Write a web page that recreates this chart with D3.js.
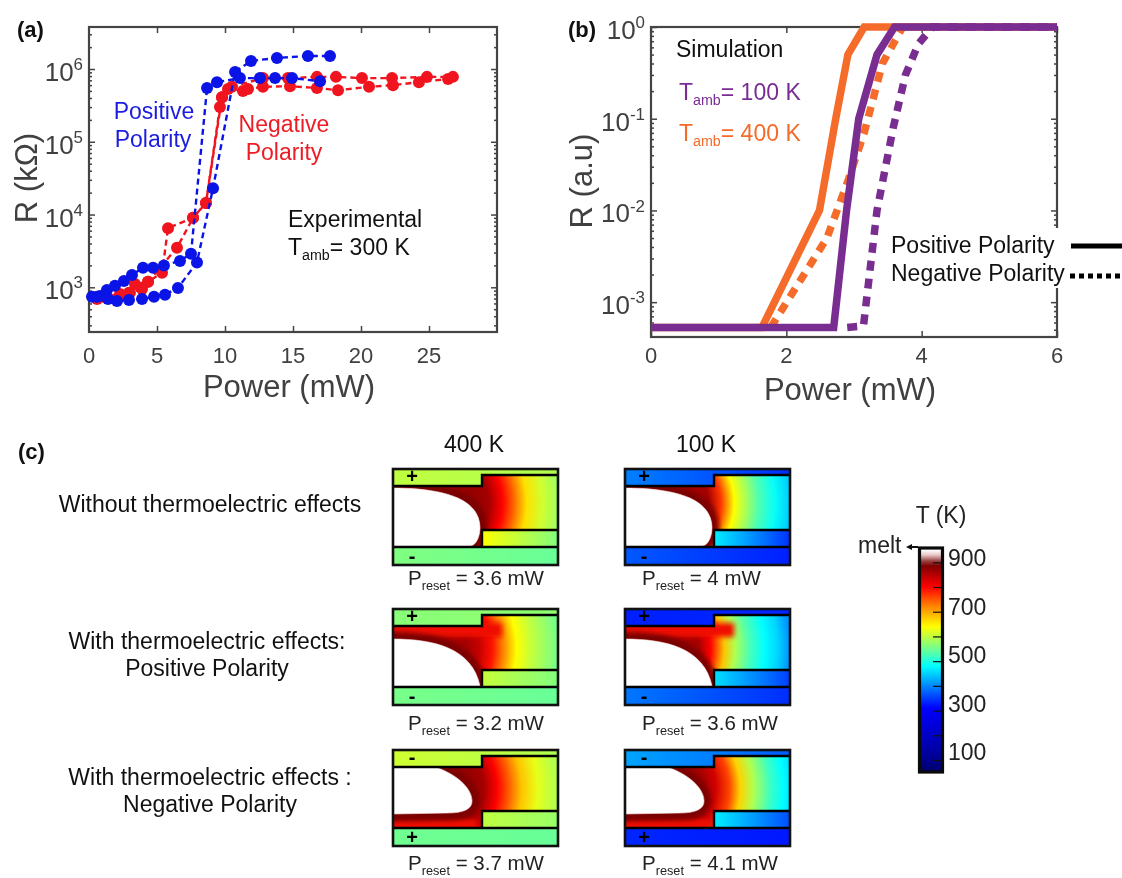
<!DOCTYPE html>
<html>
<head>
<meta charset="utf-8">
<script src="https://cdn.jsdelivr.net/npm/d3@7"></script>
<style>
  html, body { margin: 0; padding: 0; background: #fff; }
  svg { display: block; filter: blur(0.4px); }
  text { font-family: "Liberation Sans", Arial, sans-serif; }
</style>
</head>
<body>
<svg id="fig" width="1122" height="878"></svg>
<script>
// ---- panel (a) data: power in mW, R in kOhm
const blueAx = [0.22, 0.81, 1.32, 1.91, 2.57, 3.16, 3.97, 4.71, 5.51, 6.69, 7.5, 8.68, 9.41, 11.1, 12.57, 13.68, 14.93, 16.99];
const blueAy = [740, 760, 920, 1050, 1220, 1480, 1850, 1850, 2000, 2300, 2900, 5.5e5, 6.6e5, 7.5e5, 7.5e5, 7.5e5, 7.5e5, 6.8e5];
const blueBx = [0.59, 1.4, 2.06, 2.94, 3.9, 4.78, 5.59, 6.54, 7.94, 9.12, 10.74, 11.91, 13.82, 16.1, 17.72];
const blueBy = [740, 690, 650, 670, 690, 740, 790, 980, 2200, 2.3e4, 9.1e5, 1.29e6, 1.42e6, 1.51e6, 1.51e6];
const redAx = [0.59, 1.4, 2.28, 2.94, 3.9, 4.34, 5.37, 5.81, 7.65, 8.6, 9.78, 10.22, 11.32, 11.69, 12.79, 14.78, 16.76, 18.31, 20.59, 22.35, 24.26, 26.4];
const redAy = [690, 715, 740, 840, 950, 1190, 1580, 6500, 9000, 1.44e4, 4.1e5, 5.3e5, 5e5, 5.3e5, 5.7e5, 5.8e5, 5.5e5, 5.1e5, 5.7e5, 6e5, 6.6e5, 7.3e5];
const redBx = [1.03, 2.28, 3.01, 3.38, 4.34, 6.47, 7.65, 8.6, 9.63, 9.78, 10.51, 12.79, 14.63, 16.76, 18.16, 20.07, 22.28, 24.85, 26.76];
const redBy = [740, 810, 840, 1110, 1190, 3500, 9000, 1.44e4, 3e5, 4.1e5, 5.7e5, 7.5e5, 7.5e5, 7.8e5, 7.8e5, 7.5e5, 7.5e5, 7.8e5, 7.8e5];

// ---- panel (b) data, power in mW, R in a.u.
const orangeSolidX = [0, 1.64, 2.49, 2.73, 2.91, 3.15, 6];
const orangeSolidY = [5.3e-4, 5.3e-4, 1e-2, 1e-1, 0.5, 1, 1];
const orangeDashX = [1.77, 2.6, 2.9, 3.15, 3.42, 3.72];
const orangeDashY = [5.3e-4, 5e-3, 0.02, 0.07, 0.4, 1];
const purpleSolidX = [0, 2.7, 2.89, 3.07, 3.34, 3.6, 6];
const purpleSolidY = [5.3e-4, 5.3e-4, 1e-2, 1e-1, 0.5, 1, 1];
const purpleDashX = [2.9, 3.14, 3.34, 3.58, 3.76, 3.95, 4.16, 6];
const purpleDashY = [5.3e-4, 5.5e-4, 1e-2, 0.08, 0.3, 0.65, 1, 1];

// ---- panel (c) labels and temperatures (K)
const columnLabels = ["400 K", "100 K"];
const rowLabels = [
  ["Without thermoelectric effects"],
  ["With thermoelectric effects:", "Positive Polarity"],
  ["With thermoelectric effects :", "Negative Polarity"]
];
const presetValues = [["3.6", "4"], ["3.2", "3.6"], ["3.7", "4.1"]];
const topSigns = ["+", "+", "-"];
const bottomSigns = ["-", "-", "+"];
const radialOffsets = [0.33, 0.42, 0.52, 0.6, 0.7, 0.82, 0.92, 1];
const channelTemps = [
  [[870, 860, 800, 745, 660, 610, 585, 570], [860, 770, 640, 590, 530, 485, 450, 420]],
  [[860, 840, 790, 725, 640, 600, 575, 555], [860, 800, 680, 590, 530, 480, 450, 410]],
  [[870, 860, 800, 750, 680, 625, 600, 585], [860, 830, 760, 670, 590, 520, 480, 455]]
];
const topElectrodeTemps = [[[600, 590], [395, 340]], [[565, 570], [330, 335]], [[610, 590], [420, 370]]];
const sideElectrodeTemps = [[[640, 560], [470, 340]], [[605, 560], [460, 350]], [[600, 575], [470, 360]]];
const bottomElectrodeTemps = [[[560, 545], [370, 330]], [[555, 545], [390, 340]], [[550, 545], [335, 325]]];

// colour bar
const tempStops = [50, 100, 310, 480, 560, 640, 725, 800, 885, 905, 930, 950];
const tempColors = ["#00006a", "#00008f", "#0000ff", "#00ffff", "#80ff80", "#ffff00", "#ff8000", "#ff0000", "#800000", "#9a4040", "#e8c8c8", "#ffffff"];
const barTicks = [100, 200, 300, 400, 500, 600, 700, 800, 900];
const barLabels = [100, 300, 500, 700, 900];

const greyText = "#404040";
const svg = d3.select("#fig");
const defs = svg.append("defs");
defs.append("filter").attr("id", "soft").attr("x", "-30%").attr("y", "-100%").attr("width", "160%").attr("height", "300%")
  .append("feGaussianBlur").attr("stdDeviation", 2.5);

const tempColor = d3.scaleLinear().domain(tempStops).range(tempColors);

// text helper, parts = [[string, "sub"|"sup"|null], ...]
function label(parent, x, y, parts, o) {
  o = o || {};
  const size = o.size || 23;
  const t = parent.append("text").attr("x", x).attr("y", y)
    .attr("font-size", size)
    .attr("fill", o.fill || "#111")
    .attr("text-anchor", o.anchor || "start")
    .attr("font-weight", o.weight || "normal");
  if (o.rotate) t.attr("transform", "rotate(-90," + x + "," + y + ")");
  if (typeof parts === "string") parts = [[parts, null]];
  let shift = 0;
  parts.forEach(function(p) {
    const ts = t.append("tspan").text(p[0]);
    let want = 0;
    if (p[1] === "sub") { want = size * 0.22; ts.attr("font-size", size * 0.62); }
    if (p[1] === "sup") { want = -size * 0.42; ts.attr("font-size", size * 0.65); }
    ts.attr("dy", want - shift);
    shift = want;
  });
  return t;
}

// box with inward ticks on all four sides
function frame(x, y, xTicks, yMajor, yMinor) {
  const g = svg.append("g");
  const w = x.range()[1] - x.range()[0];
  const h = y.range()[0] - y.range()[1];
  const x0 = x.range()[0], y0 = y.range()[1], y1 = y.range()[0];

  g.append("g").attr("transform", "translate(0," + y1 + ")").call(d3.axisBottom(x).tickValues(xTicks).tickSize(-6).tickFormat(""));
  g.append("g").attr("transform", "translate(0," + y0 + ")").call(d3.axisTop(x).tickValues(xTicks).tickSize(-6).tickFormat(""));
  g.append("g").attr("transform", "translate(" + x0 + ",0)").call(d3.axisLeft(y).tickValues(yMajor).tickSize(-6).tickFormat(""));
  g.append("g").attr("transform", "translate(" + (x0 + w) + ",0)").call(d3.axisRight(y).tickValues(yMajor).tickSize(-6).tickFormat(""));
  g.append("g").attr("transform", "translate(" + x0 + ",0)").call(d3.axisLeft(y).tickValues(yMinor).tickSize(-3).tickFormat(""));
  g.append("g").attr("transform", "translate(" + (x0 + w) + ",0)").call(d3.axisRight(y).tickValues(yMinor).tickSize(-3).tickFormat(""));
  g.selectAll(".domain").remove();
  g.selectAll("line").attr("stroke", "#444").attr("stroke-width", 1.5);
  g.append("rect").attr("x", x0).attr("y", y0).attr("width", w).attr("height", h)
    .attr("fill", "none").attr("stroke", "#444").attr("stroke-width", 2.2);
}

function minorTicks(lowExp, highExp, lo, hi) {
  const out = [];
  d3.range(lowExp, highExp + 1).forEach(function(e) {
    d3.range(2, 10).forEach(function(m) {
      const v = m * Math.pow(10, e);
      if (v >= lo && v <= hi) out.push(v);
    });
  });
  return out;
}

// ================= panel (a) =================
const xA = d3.scaleLinear().domain([0, 30]).range([89, 497]);
const yA = d3.scaleLog().domain([243, 3.78e6]).range([332, 27]);
const majorA = [1e3, 1e4, 1e5, 1e6];
frame(xA, yA, [5, 10, 15, 20, 25], majorA, minorTicks(2, 6, 243, 3.78e6));

const lineA = d3.line().x(function(d) { return xA(d[0]); }).y(function(d) { return yA(d[1]); });
function lossCurve(xs, ys, color) {
  const pts = d3.zip(xs, ys);
  const g = svg.append("g");
  g.append("path").attr("d", lineA(pts)).attr("fill", "none").attr("stroke", color)
    .attr("stroke-width", 2.4).attr("stroke-dasharray", "6,4");
  g.selectAll("circle").data(pts).enter().append("circle")
    .attr("cx", function(d) { return xA(d[0]); })
    .attr("cy", function(d) { return yA(d[1]); })
    .attr("r", 6).attr("fill", color);
}
const blue = "#0a14e6", red = "#f0141e";
lossCurve(redAx, redAy, red);
lossCurve(redBx, redBy, red);
lossCurve(blueAx, blueAy, blue);
lossCurve(blueBx, blueBy, blue);

[0, 5, 10, 15, 20, 25].forEach(function(v) {
  label(svg, xA(v), 363, String(v), { size: 22, fill: greyText, anchor: "middle" });
});
majorA.forEach(function(v) {
  label(svg, 83, yA(v) + 12, [["10", null], [String(Math.log10(v)), "sup"]], { size: 26, fill: greyText, anchor: "end" });
});
label(svg, 289, 397, "Power (mW)", { size: 31, fill: greyText, anchor: "middle" });
label(svg, 37, 178, "R (k\u03a9)", { size: 31, fill: greyText, anchor: "middle", rotate: true });
label(svg, 17, 37, "(a)", { size: 22, weight: "bold" });
label(svg, 154, 119, "Positive", { fill: "#1c1ce0", anchor: "middle" });
label(svg, 153, 147, "Polarity", { fill: "#1c1ce0", anchor: "middle" });
label(svg, 284, 132, "Negative", { fill: "#ee1c25", anchor: "middle" });
label(svg, 284, 160, "Polarity", { fill: "#ee1c25", anchor: "middle" });
label(svg, 288, 227, "Experimental");
label(svg, 288, 255, [["T", null], ["amb", "sub"], ["= 300 K", null]]);

// ================= panel (b) =================
const xB = d3.scaleLinear().domain([0, 6]).range([651, 1057]);
const yB = d3.scaleLog().domain([4.17e-4, 1]).range([337, 27]);
const majorB = [1e-3, 1e-2, 1e-1, 1];
frame(xB, yB, [0, 2, 4, 6], majorB, minorTicks(-4, -1, 4.17e-4, 1));

const lineB = d3.line().x(function(d) { return xB(d[0]); }).y(function(d) { return yB(d[1]); });
function simCurve(xs, ys, color, dash) {
  svg.append("path").attr("d", lineB(d3.zip(xs, ys))).attr("fill", "none")
    .attr("stroke", color).attr("stroke-width", 7.5)
    .attr("stroke-linejoin", "miter")
    .attr("stroke-dasharray", dash ? "10,8" : null);
}
const orange = "#f56c2a", purple = "#7a2d91";
simCurve(orangeDashX, orangeDashY, orange, true);
simCurve(orangeSolidX, orangeSolidY, orange, false);
simCurve(purpleDashX, purpleDashY, purple, true);
simCurve(purpleSolidX, purpleSolidY, purple, false);

[0, 2, 4, 6].forEach(function(v) {
  label(svg, xB(v), 363, String(v), { size: 22, fill: greyText, anchor: "middle" });
});
majorB.forEach(function(v) {
  label(svg, 645, yB(v) + 12, [["10", null], [String(Math.round(Math.log10(v))), "sup"]], { size: 26, fill: greyText, anchor: "end" });
});
label(svg, 850, 400, "Power (mW)", { size: 31, fill: greyText, anchor: "middle" });
label(svg, 592, 181, "R (a.u)", { size: 31, fill: greyText, anchor: "middle", rotate: true });
label(svg, 568, 37, "(b)", { size: 22, weight: "bold" });
label(svg, 676, 57, "Simulation");
label(svg, 679, 100, [["T", null], ["amb", "sub"], ["= 100 K", null]], { fill: purple });
label(svg, 679, 141, [["T", null], ["amb", "sub"], ["= 400 K", null]], { fill: orange });

// legend sits on a white patch over the axis
svg.append("rect").attr("x", 885).attr("y", 228).attr("width", 237).attr("height", 60).attr("fill", "#fff");
label(svg, 891, 253, "Positive Polarity");
label(svg, 891, 281, "Negative Polarity");
svg.append("line").attr("x1", 1071).attr("x2", 1122).attr("y1", 246).attr("y2", 246).attr("stroke", "#000").attr("stroke-width", 5);
svg.append("line").attr("x1", 1070).attr("x2", 1122).attr("y1", 276).attr("y2", 276).attr("stroke", "#000").attr("stroke-width", 5).attr("stroke-dasharray", "5,4");

// ================= panel (c) =================
label(svg, 18, 459, "(c)", { size: 22, weight: "bold" });
const boxW = 167, boxH = 98;
const colX = [392, 624];
const rowY = [468, 608, 749];
const presetY = [585, 730, 870];
const presetX = [408, 642];
const titleX = [474, 706];
const rowLabelX = [210, 207, 210];
const rowLabelY = [512, 649, 785];

// white melted dome, one outline per row
const domePaths = [
  "M0,20 C45,20 88,28 88,60 C88,68 84,78 78,78 L0,78 Z",
  "M0,31 C42,31 80,40 88,78 L0,78 Z",
  "M0,18 L43,18 C62,24 80,38 80,52 C80,60 72,64 55,64 L0,65 Z"
];
const channelPath = "M0,18 H90 V7 H167 V62 H90 V79 H0 Z";
const radialCx = [40, 30, 35], radialCy = [35, 40, 40], radialR = 135;
// hot strip next to the dome on rows 2 and 3
const stripY = [null, 15, 70], stripH = [0, 14, 12], stripW = [0, 130, 105];

function flatGradient(id, temps) {
  const g = defs.append("linearGradient").attr("id", id);
  temps.forEach(function(t, i) {
    g.append("stop").attr("offset", i / (temps.length - 1)).attr("stop-color", tempColor(t));
  });
  return "url(#" + id + ")";
}

columnLabels.forEach(function(c, i) {
  label(svg, titleX[i], 452, c, { anchor: "middle" });
});
rowLabels.forEach(function(lines, r) {
  lines.forEach(function(s, k) {
    label(svg, rowLabelX[r], rowLabelY[r] + k * 27, s, { anchor: "middle" });
  });
});

rowY.forEach(function(y0, r) {
  colX.forEach(function(x0, c) {
    const id = "p" + r + "_" + c;
    const g = svg.append("g").attr("transform", "translate(" + x0 + "," + y0 + ")");

    const rad = defs.append("radialGradient").attr("id", id + "rad")
      .attr("gradientUnits", "userSpaceOnUse")
      .attr("cx", radialCx[r]).attr("cy", radialCy[r]).attr("r", radialR);
    radialOffsets.forEach(function(off, i) {
      rad.append("stop").attr("offset", off).attr("stop-color", tempColor(channelTemps[r][c][i]));
    });

    g.append("rect").attr("width", boxW).attr("height", boxH).attr("fill", "#000");
    g.append("path").attr("d", "M0,0 H167 V7 H90 V18 H0 Z").attr("fill", flatGradient(id + "top", topElectrodeTemps[r][c]));
    g.append("rect").attr("x", 90).attr("y", 62).attr("width", 77).attr("height", 17).attr("fill", flatGradient(id + "side", sideElectrodeTemps[r][c]));
    g.append("rect").attr("y", 79).attr("width", boxW).attr("height", 19).attr("fill", flatGradient(id + "bot", bottomElectrodeTemps[r][c]));

    defs.append("clipPath").attr("id", id + "clip").append("path").attr("d", channelPath);
    const inner = g.append("g").attr("clip-path", "url(#" + id + "clip)");
    inner.append("path").attr("d", channelPath).attr("fill", "url(#" + id + "rad)");
    if (stripY[r] !== null) {
      inner.append("rect").attr("x", -20).attr("y", stripY[r]).attr("width", stripW[r]).attr("height", stripH[r])
        .attr("fill", "#f01000").attr("filter", "url(#soft)");
    }
    // dark red rim hugging the melted region
    inner.append("path").attr("d", domePaths[r]).attr("fill", "none").attr("stroke", "#7a0000")
      .attr("stroke-width", 14).attr("filter", "url(#soft)");
    inner.append("path").attr("d", domePaths[r]).attr("fill", "#fff").attr("stroke", "#ffe8e8").attr("stroke-width", 0.6);

    g.append("path").attr("d", "M0,18 H90 V7 H167 M167,62 H90 V79 M0,79 H167")
      .attr("fill", "none").attr("stroke", "#000").attr("stroke-width", 2.4);
    g.append("rect").attr("x", 1).attr("y", 1).attr("width", boxW - 2).attr("height", boxH - 2)
      .attr("fill", "none").attr("stroke", "#111").attr("stroke-width", 2.6);

    label(g, 20, 15, topSigns[r], { size: 20, anchor: "middle", weight: "bold", fill: "#000" });
    label(g, 20, 95, bottomSigns[r], { size: 20, anchor: "middle", weight: "bold", fill: "#000" });

    label(svg, presetX[c], presetY[r], [["P", null], ["reset", "sub"], [" = " + presetValues[r][c] + " mW", null]], { size: 20.5, fill: "#222" });
  });
});

// ---- colour bar
const yBar = d3.scaleLinear().domain([100, 900]).range([760, 562.3]);
const yBarLabel = d3.scaleLinear().domain([100, 900]).range([752, 558]);
const barGrad = defs.append("linearGradient").attr("id", "barGrad")
  .attr("gradientUnits", "userSpaceOnUse").attr("x1", 0).attr("x2", 0)
  .attr("y1", yBar(50)).attr("y2", yBar(950));
tempStops.forEach(function(t) {
  barGrad.append("stop").attr("offset", (t - 50) / 900).attr("stop-color", tempColor(t));
});
svg.append("rect").attr("x", 920).attr("y", yBar(950)).attr("width", 22).attr("height", yBar(50) - yBar(950)).attr("fill", "url(#barGrad)");
const barAxis = svg.append("g").attr("transform", "translate(942,0)")
  .call(d3.axisRight(yBar).tickValues(barTicks).tickSize(-9).tickFormat(""));
barAxis.select(".domain").remove();
barAxis.selectAll("line").attr("stroke", "#111").attr("stroke-width", 1.2);
barLabels.forEach(function(v) {
  label(svg, 948, yBarLabel(v) + 8, String(v), { fill: "#222" });
});
svg.append("rect").attr("x", 919.5).attr("y", 548).attr("width", 23).attr("height", 224)
  .attr("fill", "none").attr("stroke", "#0a0a0a").attr("stroke-width", 3.2);

label(svg, 941, 523, "T (K)", { anchor: "middle", fill: "#222" });
label(svg, 858, 553, "melt", { fill: "#222" });
svg.append("line").attr("x1", 918).attr("x2", 909).attr("y1", 547).attr("y2", 547).attr("stroke", "#111").attr("stroke-width", 2);
svg.append("path").attr("d", d3.line()([[906, 547], [912, 544], [912, 550]])).attr("fill", "#111");
</script>
</body>
</html>
